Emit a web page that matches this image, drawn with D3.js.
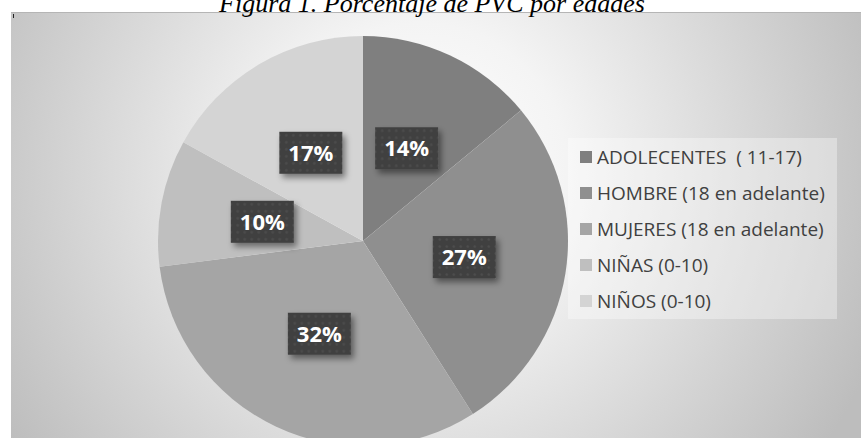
<!DOCTYPE html>
<html>
<head>
<meta charset="UTF-8">
<title>Porcentaje de PVC por edades</title>
<script src="https://d3js.org/d3.v7.min.js"></script>
<style>
html, body { margin: 0; padding: 0; background: #fff; }
svg { display: block; }
</style>
</head>
<body>
<div id="chart"></div>
<script>
// data
var categories = ["ADOLECENTES  ( 11-17)", "HOMBRE (18 en adelante)", "MUJERES (18 en adelante)", "NIÑAS (0-10)", "NIÑOS (0-10)"];
var values = [14, 27, 32, 10, 17];
var sliceColors = ["#7f7f7f", "#8f8f8f", "#a5a5a5", "#bfbfbf", "#d4d4d4"];
var titleText = "Figura 1. Porcentaje de PVC por edades";

var W = 861, H = 438;
var cx = 363, cy = 241, R = 205;

var svg = d3.select("#chart").append("svg")
  .attr("width", W)
  .attr("height", H);

var defs = svg.append("defs");

// background gradient (white glow near top centre)
var grad = defs.append("radialGradient")
  .attr("id", "bg")
  .attr("gradientUnits", "userSpaceOnUse")
  .attr("cx", 420).attr("cy", 170).attr("r", 490);
grad.append("stop").attr("offset", "0").attr("stop-color", "#ffffff");
grad.append("stop").attr("offset", "0.3").attr("stop-color", "#f4f4f4");
grad.append("stop").attr("offset", "1").attr("stop-color", "#bdbdbd");

// dotted pattern for the label boxes
var pat = defs.append("pattern")
  .attr("id", "dots")
  .attr("patternUnits", "userSpaceOnUse")
  .attr("width", 7).attr("height", 7);
pat.append("rect").attr("width", 7).attr("height", 7).attr("fill", "#404040");
pat.append("circle").attr("cx", 3.5).attr("cy", 3.5).attr("r", 1.2).attr("fill", "#4e4e4e");

var shadow = defs.append("filter").attr("id", "shadow")
  .attr("x", "-20%").attr("y", "-20%").attr("width", "150%").attr("height", "160%");
shadow.append("feDropShadow")
  .attr("dx", 3).attr("dy", 4).attr("stdDeviation", 3)
  .attr("flood-color", "#000").attr("flood-opacity", 0.45);

// chart area
svg.append("rect")
  .attr("x", 11).attr("y", 12)
  .attr("width", W - 11).attr("height", H - 12)
  .attr("fill", "url(#bg)");
svg.append("line")
  .attr("x1", 11).attr("x2", W).attr("y1", 12.5).attr("y2", 12.5)
  .attr("stroke", "#b5b5b5").attr("stroke-width", 1);
svg.append("line")
  .attr("x1", 13.5).attr("x2", 13.5).attr("y1", 14).attr("y2", 18)
  .attr("stroke", "#222").attr("stroke-width", 1);

// title (cut at the top, as in the source document)
svg.append("text")
  .attr("x", 432).attr("y", 12)
  .attr("text-anchor", "middle")
  .style("font-family", "'Liberation Serif', 'Times New Roman', serif")
  .style("font-style", "italic")
  .style("font-size", "26px")
  .attr("fill", "#000")
  .text(titleText);

// pie
var data = categories.map(function(c, i) { return {name: c, value: values[i], color: sliceColors[i]}; });
var pie = d3.pie().sort(null).value(function(d) { return d.value; });
var arc = d3.arc().innerRadius(0).outerRadius(R);
var labelArc = d3.arc().innerRadius(R * 0.5).outerRadius(R * 0.5);
var arcs = pie(data);

var g = svg.append("g").attr("transform", "translate(" + cx + "," + cy + ")");
g.selectAll("path.slice")
  .data(arcs)
  .enter().append("path")
  .attr("class", "slice")
  .attr("d", arc)
  .attr("fill", function(d) { return d.data.color; });

var total = d3.sum(values);
var lab = g.selectAll("g.lab")
  .data(arcs)
  .enter().append("g")
  .attr("class", "lab")
  .attr("transform", function(d) { var p = labelArc.centroid(d); return "translate(" + p[0] + "," + p[1] + ")"; });
lab.append("rect")
  .attr("x", -31.5).attr("y", -21)
  .attr("width", 63).attr("height", 42)
  .attr("fill", "url(#dots)")
  .attr("filter", "url(#shadow)");
lab.append("text")
  .attr("text-anchor", "middle")
  .attr("dy", "0.36em")
  .style("font-family", "'Open Sans', 'DejaVu Sans', sans-serif")
  .style("font-weight", "bold")
  .style("font-size", "22px")
  .attr("fill", "#fff")
  .text(function(d) { return Math.round(d.data.value / total * 100) + "%"; });

// legend
var lg = svg.append("g").attr("transform", "translate(568,138)");
lg.append("rect")
  .attr("width", 269).attr("height", 181)
  .attr("fill", "#ffffff").attr("fill-opacity", 0.35);
var item = lg.selectAll("g.item")
  .data(data)
  .enter().append("g")
  .attr("class", "item")
  .attr("transform", function(d, i) { return "translate(12," + (19 + i * 36) + ")"; });
item.append("rect")
  .attr("x", 0).attr("y", -6)
  .attr("width", 12).attr("height", 12)
  .attr("fill", function(d) { return d.color; });
item.append("text")
  .attr("x", 17).attr("dy", "0.36em")
  .style("font-family", "'Open Sans', 'DejaVu Sans', sans-serif")
  .style("font-size", "19px")
  .attr("fill", "#404040")
  .style("white-space", "pre")
  .text(function(d) { return d.name; });
</script>
</body>
</html>
